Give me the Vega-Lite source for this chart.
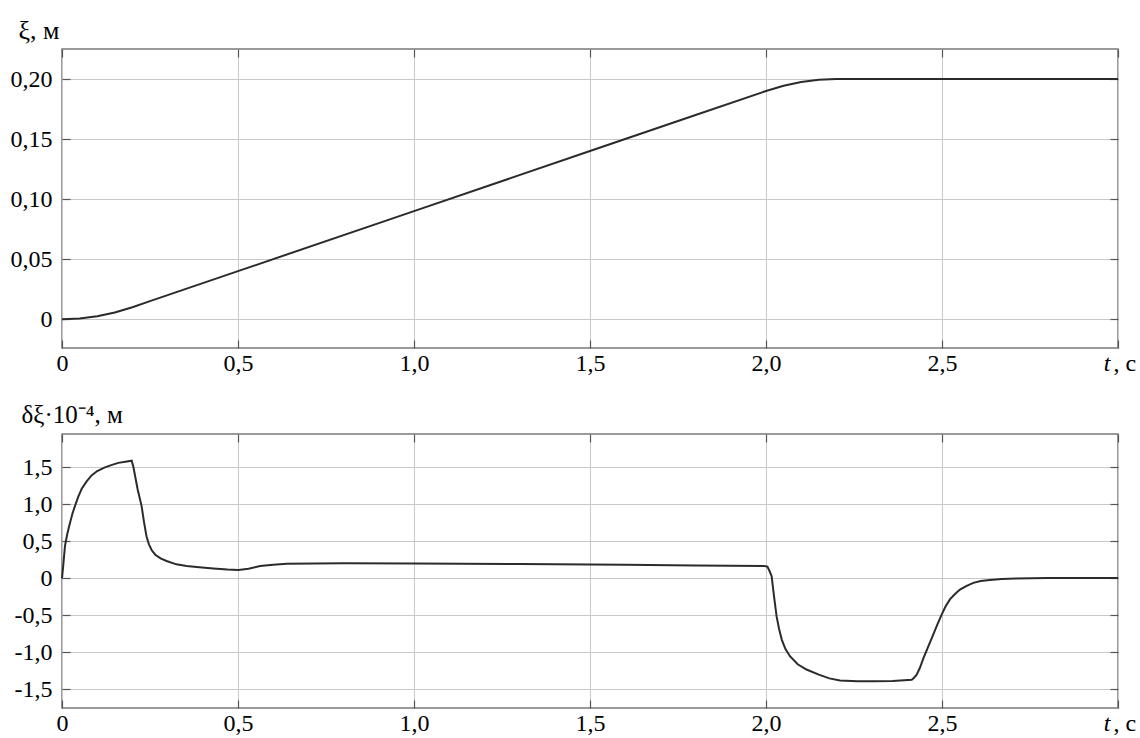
{
  "$schema": "https://vega.github.io/schema/vega-lite/v6.json",
  "padding": {"left": 9, "top": 16, "right": 3, "bottom": 3},
  "background": "white",
  "bounds": "flush",
  "spacing": 86,
  "config": {
    "view": {"stroke": "#7a7a7a", "strokeWidth": 1.5},
    "axis": {
      "labelFont": "Liberation Serif",
      "labelFontSize": 24,
      "labelColor": "#000",
      "titleFont": "Liberation Serif",
      "titleFontSize": 24,
      "titleFontWeight": "normal",
      "titleColor": "#000",
      "domain": false,
      "gridColor": "#c8c8c8",
      "gridWidth": 1,
      "gridOpacity": 1,
      "tickColor": "#555",
      "tickSize": -8,
      "tickWidth": 1.2
    }
  },
  "datasets": {
    "top": [
      {"t": 0, "v": 0}, {"t": 0.05, "v": 0.0006}, {"t": 0.1, "v": 0.0025}, {"t": 0.15, "v": 0.0056},
      {"t": 0.2, "v": 0.01}, {"t": 0.25, "v": 0.015}, {"t": 0.3, "v": 0.02}, {"t": 0.5, "v": 0.04},
      {"t": 1.0, "v": 0.09}, {"t": 1.5, "v": 0.14}, {"t": 1.8, "v": 0.17}, {"t": 2.0, "v": 0.19},
      {"t": 2.05, "v": 0.1944}, {"t": 2.1, "v": 0.1975}, {"t": 2.15, "v": 0.1994}, {"t": 2.2, "v": 0.2},
      {"t": 3.0, "v": 0.2}
    ],
    "bot": [
      {"t": 0, "v": 0}, {"t": 0.004, "v": 0.2}, {"t": 0.0085, "v": 0.44}, {"t": 0.015, "v": 0.6},
      {"t": 0.0227, "v": 0.75}, {"t": 0.03, "v": 0.88}, {"t": 0.037, "v": 0.98}, {"t": 0.046, "v": 1.1},
      {"t": 0.056, "v": 1.21}, {"t": 0.07, "v": 1.31}, {"t": 0.084, "v": 1.39}, {"t": 0.1, "v": 1.45},
      {"t": 0.122, "v": 1.5}, {"t": 0.14, "v": 1.53}, {"t": 0.16, "v": 1.56}, {"t": 0.18, "v": 1.575},
      {"t": 0.198, "v": 1.59}, {"t": 0.203, "v": 1.5}, {"t": 0.207, "v": 1.4}, {"t": 0.215, "v": 1.2},
      {"t": 0.226, "v": 0.98}, {"t": 0.233, "v": 0.76}, {"t": 0.24, "v": 0.57}, {"t": 0.247, "v": 0.46},
      {"t": 0.255, "v": 0.38}, {"t": 0.265, "v": 0.32}, {"t": 0.28, "v": 0.27},
      {"t": 0.297, "v": 0.235}, {"t": 0.325, "v": 0.19}, {"t": 0.354, "v": 0.167}, {"t": 0.39, "v": 0.15},
      {"t": 0.43, "v": 0.135}, {"t": 0.47, "v": 0.12}, {"t": 0.501, "v": 0.113}, {"t": 0.53, "v": 0.13},
      {"t": 0.5625, "v": 0.167}, {"t": 0.6, "v": 0.185}, {"t": 0.638, "v": 0.199}, {"t": 0.8, "v": 0.205},
      {"t": 1.0, "v": 0.2}, {"t": 1.3, "v": 0.195}, {"t": 1.6, "v": 0.185}, {"t": 1.8, "v": 0.175},
      {"t": 1.995, "v": 0.167}, {"t": 2.004, "v": 0.16}, {"t": 2.01, "v": 0.1}, {"t": 2.016, "v": 0.03},
      {"t": 2.023, "v": -0.25}, {"t": 2.03, "v": -0.51}, {"t": 2.037, "v": -0.68}, {"t": 2.045, "v": -0.83},
      {"t": 2.055, "v": -0.95}, {"t": 2.068, "v": -1.05}, {"t": 2.09, "v": -1.16}, {"t": 2.115, "v": -1.23},
      {"t": 2.15, "v": -1.3}, {"t": 2.18, "v": -1.35}, {"t": 2.21, "v": -1.38}, {"t": 2.26, "v": -1.39},
      {"t": 2.305, "v": -1.39}, {"t": 2.36, "v": -1.385}, {"t": 2.414, "v": -1.37}, {"t": 2.42, "v": -1.345},
      {"t": 2.428, "v": -1.3}, {"t": 2.437, "v": -1.21}, {"t": 2.447, "v": -1.08}, {"t": 2.46, "v": -0.93},
      {"t": 2.475, "v": -0.76}, {"t": 2.487, "v": -0.62}, {"t": 2.499, "v": -0.49}, {"t": 2.51, "v": -0.38},
      {"t": 2.523, "v": -0.28}, {"t": 2.537, "v": -0.21}, {"t": 2.551, "v": -0.15}, {"t": 2.57, "v": -0.1},
      {"t": 2.589, "v": -0.06}, {"t": 2.61, "v": -0.035}, {"t": 2.636, "v": -0.02}, {"t": 2.67, "v": -0.008},
      {"t": 2.71, "v": 0.0}, {"t": 2.8, "v": 0.005}, {"t": 3.0, "v": 0.005}
    ]
  },
  "vconcat": [
    {
      "width": 1056,
      "height": 299,
      "data": {"name": "top"},
      "layer": [
        {
          "mark": {"type": "line", "color": "#2b2b2b", "strokeWidth": 2},
          "encoding": {
            "x": {"field": "t", "type": "quantitative", "scale": {"domain": [0, 3], "nice": false, "zero": false},
              "axis": {"orient": "bottom", "values": [0, 0.5, 1, 1.5, 2, 2.5, 3], "grid": true, "title": null,
                "labelFont": "Liberation Serif", "labelPadding": 11, "labelFlush": false, "labelOverlap": false,
                "labelExpr": "datum.value == 0 ? '0' : datum.value == 3 ? '' : replace(format(datum.value, '.1f'), '.', ',')"}},
            "y": {"field": "v", "type": "quantitative", "scale": {"domain": [-0.024, 0.225], "nice": false, "zero": false},
              "axis": {"orient": "left", "values": [0, 0.05, 0.1, 0.15, 0.2], "grid": true,
                "labelFont": "Liberation Serif", "labelPadding": 18, "labelFlush": false, "labelOverlap": false,
                "labelExpr": "datum.value == 0 ? '0' : replace(format(datum.value, '.2f'), '.', ',')",
                "title": "ξ, м", "titleFont": "Liberation Serif", "titleFontSize": 26, "titleAngle": 0, "titleAlign": "left", "titleBaseline": "alphabetic",
                "titleX": -44, "titleY": -11}}
          }
        },
        {
          "mark": {"type": "line", "opacity": 0},
          "encoding": {
            "x": {"field": "t", "type": "quantitative",
              "axis": {"orient": "top", "values": [0, 0.5, 1, 1.5, 2, 2.5, 3], "grid": false, "labels": false, "title": null}},
            "y": {"field": "v", "type": "quantitative",
              "axis": {"orient": "right", "values": [0, 0.05, 0.1, 0.15, 0.2], "grid": false, "labels": false, "title": null}}
          }
        },
        {
          "mark": {"type": "line", "opacity": 0},
          "encoding": {
            "x": {"field": "t", "type": "quantitative",
              "axis": {"orient": "bottom", "values": [3], "grid": false, "ticks": false, "title": null,
                "labelFont": "Liberation Serif", "labelPadding": 3, "labelExpr": "'t'", "labelFontStyle": "italic", "labelAlign": "right", "labelOffset": -8, "labelFlush": false}},
            "y": {"field": "v", "type": "quantitative", "axis": null}
          }
        },
        {
          "mark": {"type": "line", "opacity": 0},
          "encoding": {
            "x": {"field": "t", "type": "quantitative",
              "axis": {"orient": "bottom", "values": [3], "grid": false, "ticks": false, "title": null,
                "labelFont": "Liberation Serif", "labelPadding": 3, "labelExpr": "', с'", "labelAlign": "left", "labelOffset": -5, "labelFlush": false}},
            "y": {"field": "v", "type": "quantitative", "axis": null}
          }
        }
      ],
      "resolve": {"axis": {"x": "independent", "y": "independent"}}
    },
    {
      "width": 1056,
      "height": 274,
      "data": {"name": "bot"},
      "layer": [
        {
          "mark": {"type": "line", "color": "#2b2b2b", "strokeWidth": 2},
          "encoding": {
            "x": {"field": "t", "type": "quantitative", "scale": {"domain": [0, 3], "nice": false, "zero": false},
              "axis": {"orient": "bottom", "values": [0, 0.5, 1, 1.5, 2, 2.5, 3], "grid": true, "title": null,
                "labelFont": "Liberation Serif", "labelPadding": 11, "labelFlush": false, "labelOverlap": false,
                "labelExpr": "datum.value == 0 ? '0' : datum.value == 3 ? '' : replace(format(datum.value, '.1f'), '.', ',')"}},
            "y": {"field": "v", "type": "quantitative", "scale": {"domain": [-1.75, 1.95], "nice": false, "zero": false},
              "axis": {"orient": "left", "values": [-1.5, -1, -0.5, 0, 0.5, 1, 1.5], "grid": true,
                "labelFont": "Liberation Serif", "labelPadding": 18, "labelFlush": false, "labelOverlap": false,
                "labelExpr": "datum.value == 0 ? '0' : replace(replace(format(datum.value, '.1f'), '.', ','), '\u2212', '-')",
                "title": "δξ·10⁻⁴, м", "titleFont": "Liberation Serif", "titleFontSize": 25, "titleAngle": 0, "titleAlign": "left", "titleBaseline": "alphabetic",
                "titleX": -41, "titleY": -12}}
          }
        },
        {
          "mark": {"type": "line", "opacity": 0},
          "encoding": {
            "x": {"field": "t", "type": "quantitative",
              "axis": {"orient": "top", "values": [0, 0.5, 1, 1.5, 2, 2.5, 3], "grid": false, "labels": false, "title": null}},
            "y": {"field": "v", "type": "quantitative",
              "axis": {"orient": "right", "values": [-1.5, -1, -0.5, 0, 0.5, 1, 1.5], "grid": false, "labels": false, "title": null}}
          }
        },
        {
          "mark": {"type": "line", "opacity": 0},
          "encoding": {
            "x": {"field": "t", "type": "quantitative",
              "axis": {"orient": "bottom", "values": [3], "grid": false, "ticks": false, "title": null,
                "labelFont": "Liberation Serif", "labelPadding": 3, "labelExpr": "'t'", "labelFontStyle": "italic", "labelAlign": "right", "labelOffset": -8, "labelFlush": false}},
            "y": {"field": "v", "type": "quantitative", "axis": null}
          }
        },
        {
          "mark": {"type": "line", "opacity": 0},
          "encoding": {
            "x": {"field": "t", "type": "quantitative",
              "axis": {"orient": "bottom", "values": [3], "grid": false, "ticks": false, "title": null,
                "labelFont": "Liberation Serif", "labelPadding": 3, "labelExpr": "', с'", "labelAlign": "left", "labelOffset": -5, "labelFlush": false}},
            "y": {"field": "v", "type": "quantitative", "axis": null}
          }
        }
      ],
      "resolve": {"axis": {"x": "independent", "y": "independent"}}
    }
  ]
}
